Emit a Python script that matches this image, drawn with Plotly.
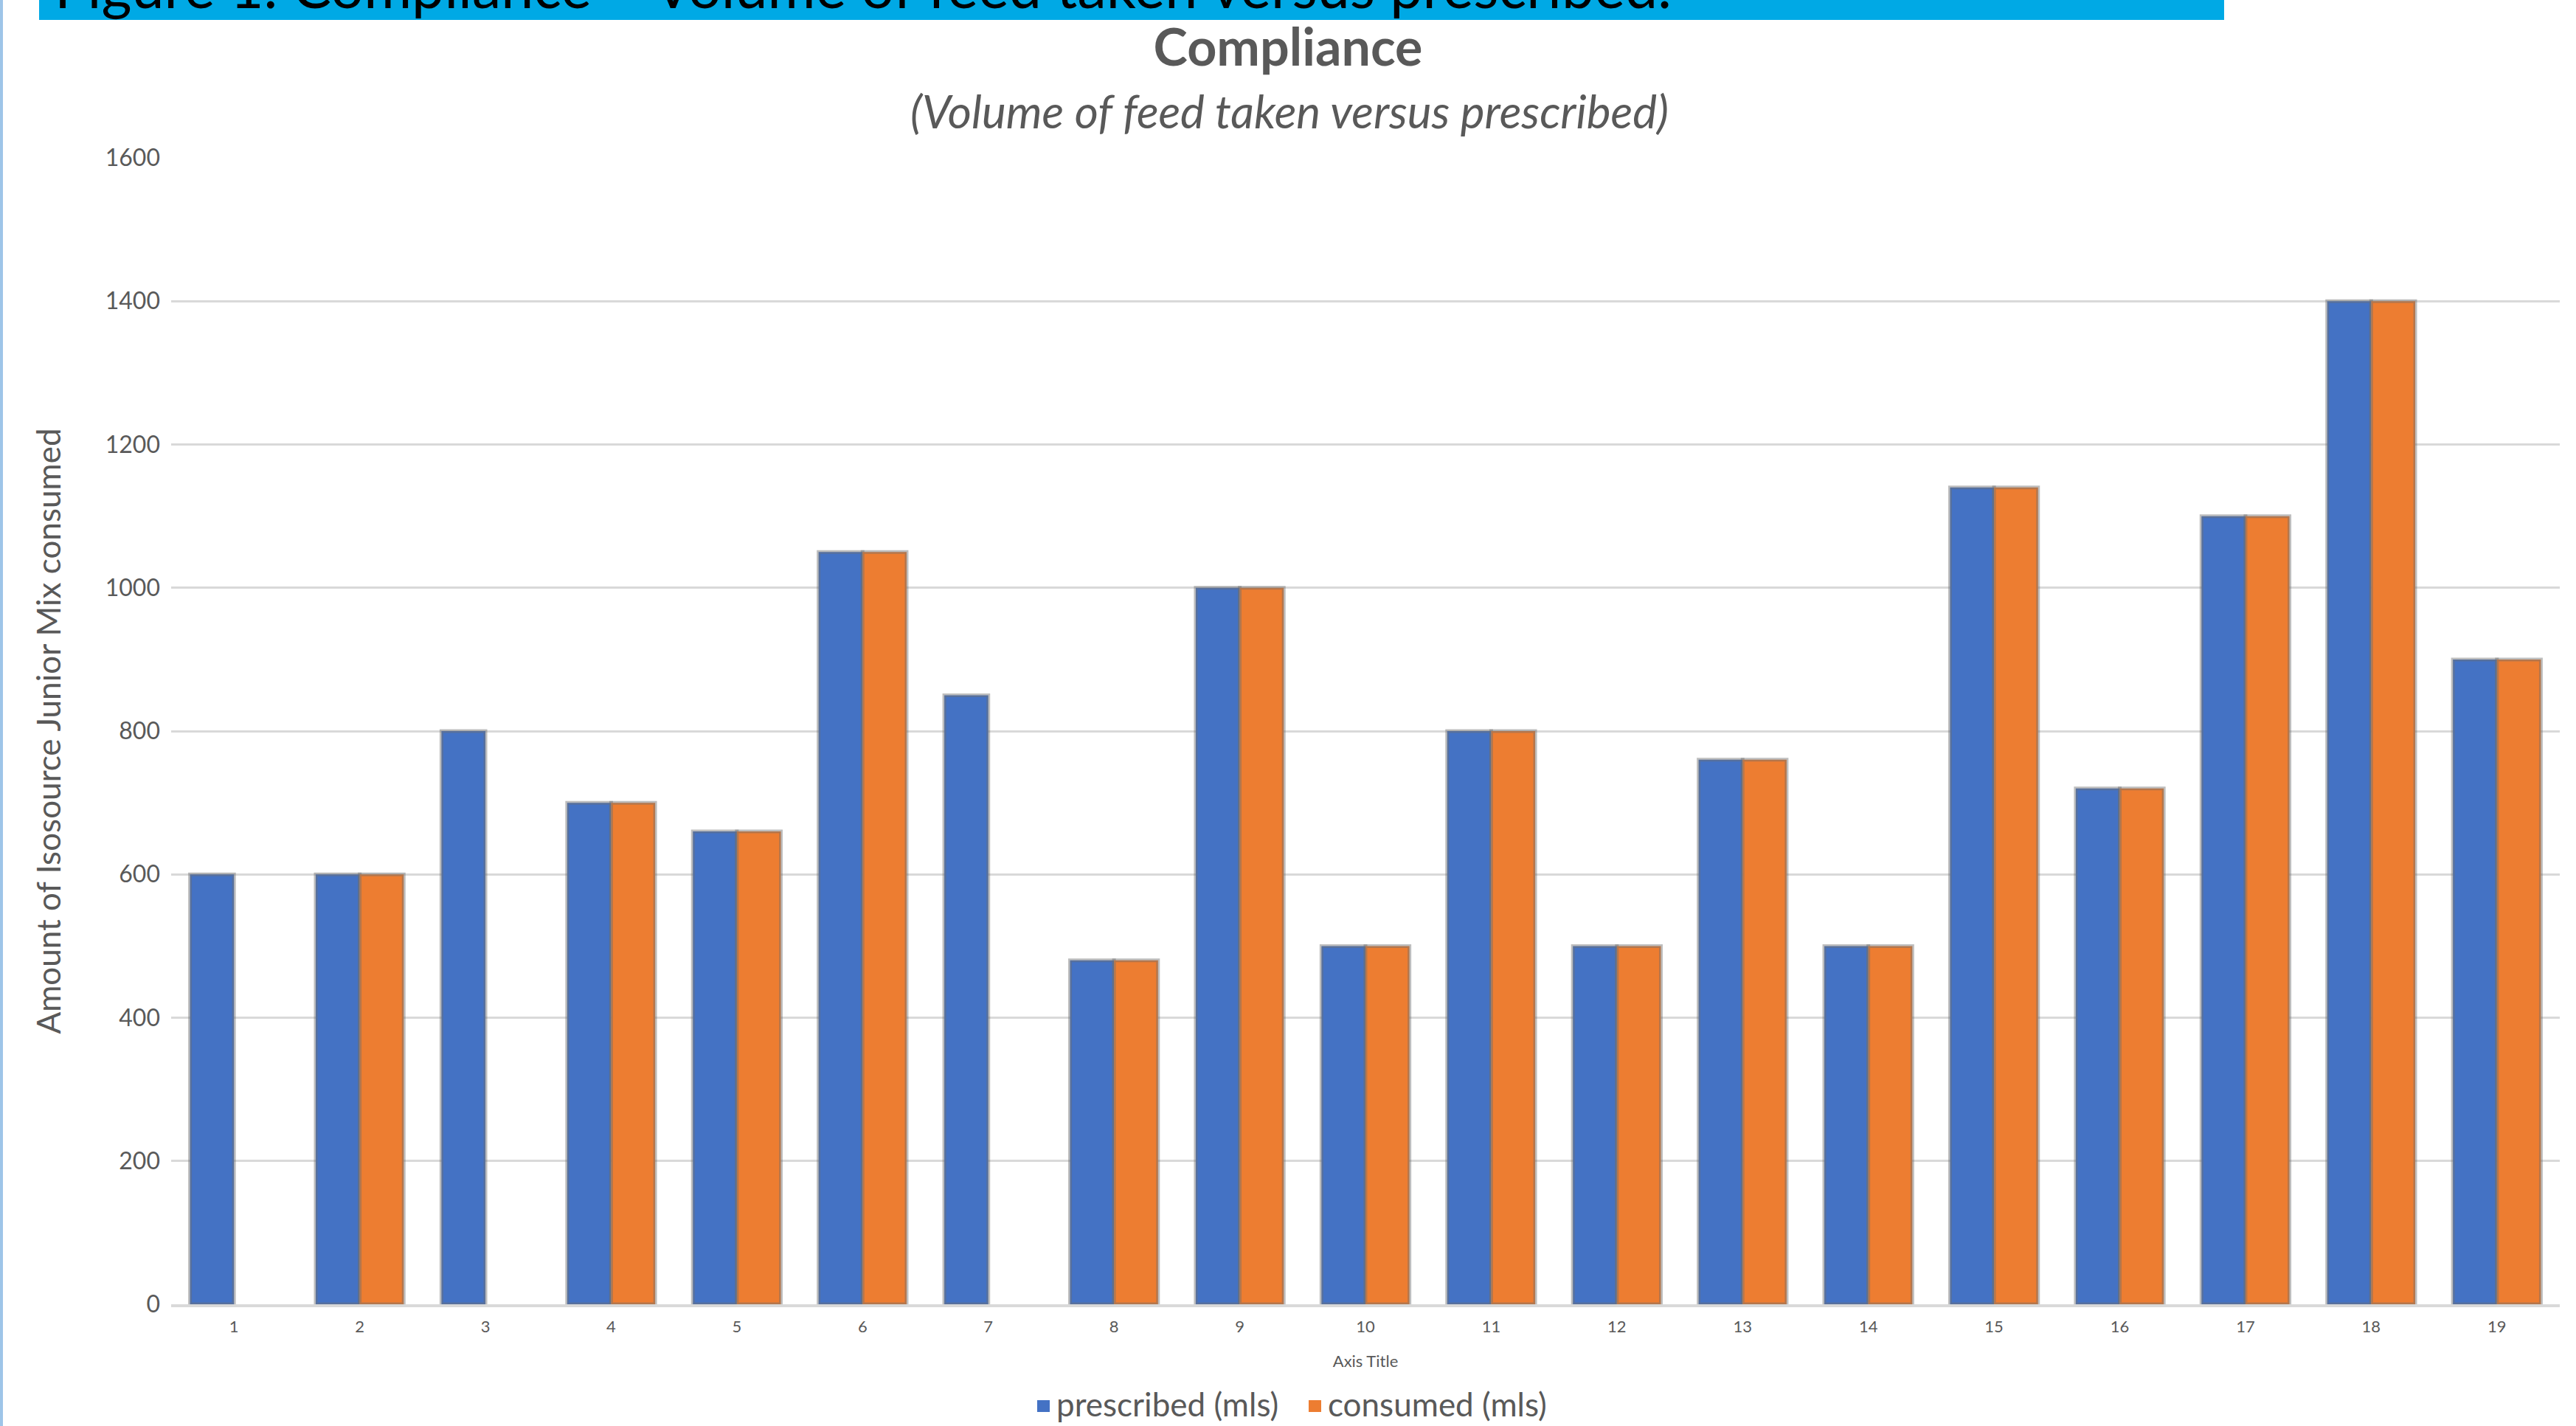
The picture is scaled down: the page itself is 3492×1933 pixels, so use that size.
import plotly.graph_objects as go

# Feed volumes per patient day (mls)
days = ["1", "2", "3", "4", "5", "6", "7", "8", "9", "10",
        "11", "12", "13", "14", "15", "16", "17", "18", "19"]
prescribed = [600, 600, 800, 700, 660, 1050, 850, 480, 1000, 500,
              800, 500, 760, 500, 1140, 720, 1100, 1400, 900]
consumed = [None, 600, None, 700, 660, 1050, None, 480, 1000, 500,
            800, 500, 760, 500, 1140, 720, 1100, 1400, 900]
y_ticks = [0, 200, 400, 600, 800, 1000, 1200, 1400, 1600]
series_names = ["prescribed (mls)", "consumed (mls)"]
series_colors = ["#4472C4", "#ED7D31"]

W, H = 3492, 1933
L, R, T, B = 232, 22, 214, 165
PW, PH = W - L - R, H - T - B


def px(x):
    return (x - L) / PW


def py(y):
    return (H - B - y) / PH


FONT = "Lato"
GREY = "#595959"
EDGE = "rgba(110,110,110,0.45)"

fig = go.Figure()
for name, vals, col in zip(series_names, [prescribed, consumed], series_colors):
    fig.add_trace(go.Bar(
        x=days, y=vals, name=name, showlegend=False,
        marker=dict(color=col, line=dict(color=EDGE, width=5)),
    ))

fig.update_layout(
    width=W, height=H,
    margin=dict(l=L, r=R, t=T, b=B, pad=0),
    paper_bgcolor="white", plot_bgcolor="white",
    barmode="group", bargap=0.3, bargroupgap=0,
    font=dict(family=FONT, color=GREY),
    title=dict(
        text="<b>Compliance</b>", x=0.5, xanchor="center",
        y=1 - 64 / H, yanchor="middle", yref="container",
        font=dict(family=FONT, size=70, color=GREY),
    ),
    xaxis=dict(
        type="category", showgrid=False, ticks="",
        showline=True, linecolor="#d9d9d9", linewidth=4,
        tickfont=dict(family=FONT, size=22, color=GREY),
        ticklabelstandoff=8,
        title=dict(text="Axis Title", font=dict(family=FONT, size=22, color=GREY),
                   standoff=28),
    ),
    yaxis=dict(
        range=[0, 1600], tickvals=y_ticks, ticks="",
        showgrid=True, gridcolor="#d9d9d9", gridwidth=3,
        zeroline=False, showline=False,
        tickfont=dict(family=FONT, size=32, color=GREY),
        ticklabelstandoff=14,
        title=dict(text="Amount of Isosource Junior Mix consumed",
                   font=dict(family=FONT, size=44, color=GREY), standoff=46),
    ),
)

# Caption banner across the top
fig.add_shape(type="rect", xref="paper", yref="paper",
              x0=px(53), x1=px(3015), y0=py(27), y1=py(-10),
              fillcolor="#00A9E5", line=dict(width=0), layer="below")
fig.add_annotation(
    text="Figure 1. Compliance \u2013 Volume of feed taken versus prescribed.",
    xref="paper", yref="paper", x=px(72), y=py(-20),
    xanchor="left", yanchor="middle", showarrow=False,
    font=dict(family=FONT, size=79, color="black"),
)

# Subtitle
fig.add_annotation(
    text="<i>(Volume of feed taken versus prescribed)</i>",
    xref="paper", yref="paper", x=px(1748), y=py(150),
    xanchor="center", yanchor="middle", showarrow=False,
    font=dict(family=FONT, size=62, color=GREY),
)

# Series key below the axis title
key_swatch_x = [1406, 1774]
for sx, name, col in zip(key_swatch_x, series_names, series_colors):
    fig.add_shape(type="rect", xref="paper", yref="paper",
                  x0=px(sx), x1=px(sx + 17), y0=py(1914), y1=py(1898),
                  fillcolor=col, line=dict(width=0))
    fig.add_annotation(
        text=name, xref="paper", yref="paper", x=px(sx + 24), y=py(1903),
        xanchor="left", yanchor="middle", showarrow=False,
        font=dict(family=FONT, size=44, color=GREY),
    )

# Page border on the left edge
fig.add_shape(type="line", xref="paper", yref="paper",
              x0=px(2), x1=px(2), y0=py(0), y1=py(H),
              line=dict(color="#9ec5e8", width=4))

fig.write_html("out.html")
